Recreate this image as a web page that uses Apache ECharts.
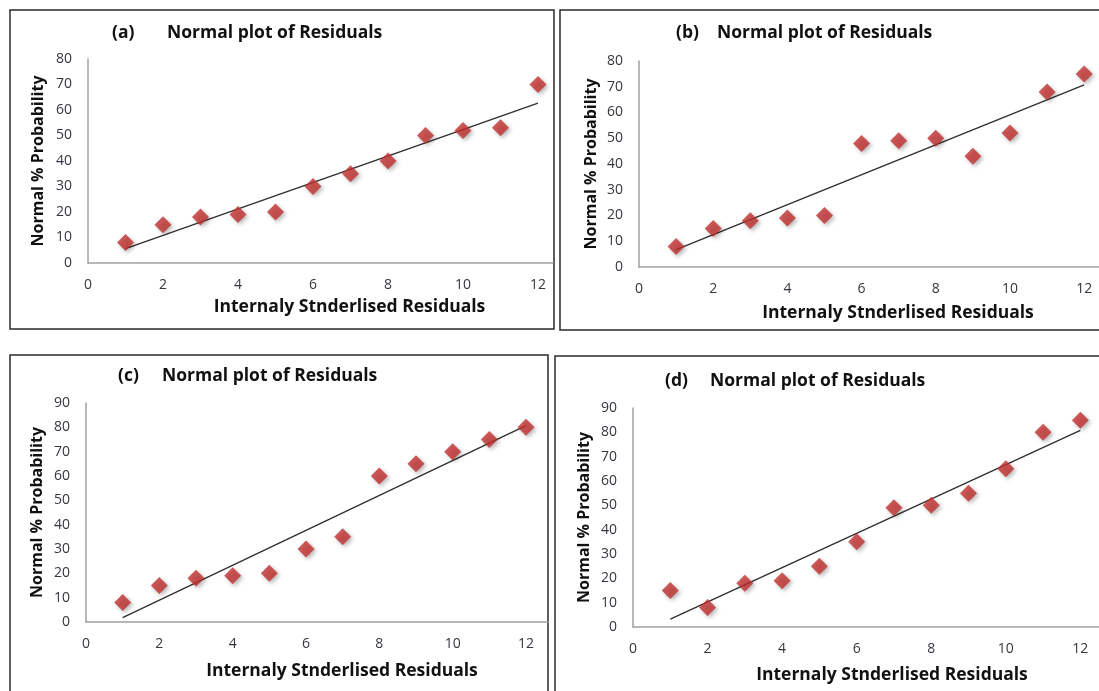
<!DOCTYPE html>
<html>
<head>
<meta charset="utf-8">
<script src="https://cdn.jsdelivr.net/npm/echarts@6/dist/echarts.min.js"></script>
<style>
  html, body { margin: 0; padding: 0; background: #ffffff; }
  #chart { width: 1099px; height: 691px; }
</style>
</head>
<body>
<div id="chart"></div>
<script>
// Residual rank on the x axis, shared by the four runs
const ranks = [1, 2, 3, 4, 5, 6, 7, 8, 9, 10, 11, 12];

// Normal % probability for each run
const probA = [8, 15, 18, 19, 20, 30, 35, 40, 50, 52, 53, 70];
const probB = [8, 15, 18, 19, 20, 48, 49, 50, 43, 52, 68, 75];
const probC = [8, 15, 18, 19, 20, 30, 35, 60, 65, 70, 75, 80];
const probD = [15, 8, 18, 19, 25, 35, 49, 50, 55, 65, 80, 85];

const panelTags = ['(a)', '(b)', '(c)', '(d)'];
const plotTitle = 'Normal plot of Residuals';
const xTitle = 'Internaly Stnderlised Residuals';
const yTitle = 'Normal % Probability';
const yMaxes = [80, 80, 90, 90];

// Layout of each framed panel (pixels); the x axis runs on past 12 to the frame edge
const panels = [
  { frame: [10, 10, 544, 319], grid: { left: 88, top: 59, width: 465, height: 204 }, xMax: 12.4,
    tag: [112, 24], title: [167, 24], xNameShift: 29, xGap: 35, yGap: 42 },
  { frame: [560, 10, 560, 320], grid: { left: 639, top: 61, width: 461, height: 206 }, xMax: 12.4,
    tag: [676, 24], title: [717, 24], xNameShift: 29, xGap: 37, yGap: 40 },
  { frame: [10, 355, 538, 360], grid: { left: 86, top: 403, width: 462, height: 219 }, xMax: 12.6,
    tag: [118, 367], title: [162, 367], xNameShift: 25, xGap: 40, yGap: 41 },
  { frame: [555, 356, 560, 360], grid: { left: 633, top: 408, width: 466, height: 219 }, xMax: 12.5,
    tag: [665, 372], title: [710, 372], xNameShift: 26, xGap: 39, yGap: 41 }
];

const seriesValues = [probA, probB, probC, probD];

// Least-squares fit, drawn across the span of the ranks
function fitLine(xs, ys) {
  const n = xs.length;
  const mx = xs.reduce((s, v) => s + v, 0) / n;
  const my = ys.reduce((s, v) => s + v, 0) / n;
  let sxy = 0, sxx = 0;
  for (let i = 0; i < n; i++) {
    sxy += (xs[i] - mx) * (ys[i] - my);
    sxx += (xs[i] - mx) * (xs[i] - mx);
  }
  const slope = sxy / sxx;
  const icpt = my - slope * mx;
  const x0 = Math.min(...xs), x1 = Math.max(...xs);
  return [[x0, icpt + slope * x0], [x1, icpt + slope * x1]];
}

const FONT = '"Open Sans", "DejaVu Sans", sans-serif';
const labelColor = '#36363e';
const axisColor = '#a0a0a0';
const markerColor = '#c03030';

const grids = [], xAxes = [], yAxes = [], series = [], titles = [], frames = [];

panels.forEach((p, i) => {
  grids.push(Object.assign({ containLabel: false }, p.grid));

  xAxes.push({
    type: 'value', gridIndex: i, min: 0, max: p.xMax, interval: 2,
    splitLine: { show: false },
    axisTick: { show: false },
    axisLine: { show: true, onZero: false, lineStyle: { color: axisColor, width: 1.5 } },
    axisLabel: { show: true, showMaxLabel: false, margin: 15, color: labelColor,
      fontFamily: FONT, fontSize: 14 },
    name: xTitle, nameLocation: 'middle', nameGap: p.xGap,
    nameTextStyle: { fontFamily: FONT, fontSize: 17.5, fontWeight: 'bold', color: '#111111',
      padding: [0, 0, 0, p.xNameShift * 2] }
  });

  yAxes.push({
    type: 'value', gridIndex: i, min: 0, max: yMaxes[i], interval: 10,
    splitLine: { show: false },
    axisTick: { show: false },
    axisLine: { show: true, lineStyle: { color: axisColor, width: 1.5 } },
    axisLabel: { margin: 16, color: labelColor, fontFamily: FONT, fontSize: 14 },
    name: yTitle, nameLocation: 'middle', nameGap: p.yGap, nameRotate: 90,
    nameTextStyle: { fontFamily: FONT, fontSize: 16, fontWeight: 'bold', color: '#111111' }
  });

  const vals = seriesValues[i];
  series.push({
    type: 'line', xAxisIndex: i, yAxisIndex: i,
    data: fitLine(ranks, vals),
    symbol: 'none', silent: true, z: 2,
    lineStyle: { color: '#2e2e2e', width: 1.3 }
  });
  series.push({
    type: 'scatter', xAxisIndex: i, yAxisIndex: i,
    data: ranks.map((r, k) => [r, vals[k]]),
    symbol: 'diamond', symbolSize: 17, z: 3,
    itemStyle: { color: markerColor, shadowBlur: 4, shadowOffsetX: 2, shadowOffsetY: 2,
      shadowColor: 'rgba(0,0,0,0.35)' }
  });

  titles.push({
    text: panelTags[i], left: p.tag[0], top: p.tag[1], padding: 0,
    textStyle: { fontFamily: FONT, fontSize: 17.5, fontWeight: 'bold', color: '#111111' }
  });
  titles.push({
    text: plotTitle, left: p.title[0], top: p.title[1], padding: 0,
    textStyle: { fontFamily: FONT, fontSize: 17.5, fontWeight: 'bold', color: '#111111' }
  });

  frames.push({
    type: 'rect', z: 0, silent: true,
    shape: { x: p.frame[0], y: p.frame[1], width: p.frame[2], height: p.frame[3] },
    style: { fill: 'none', stroke: '#2a2a2a', lineWidth: 1.5 }
  });
});

const chart = echarts.init(document.getElementById('chart'), null, { renderer: 'canvas' });
chart.setOption({
  animation: false,
  backgroundColor: '#ffffff',
  title: titles,
  grid: grids,
  xAxis: xAxes,
  yAxis: yAxes,
  series: series,
  graphic: frames
});
</script>
</body>
</html>
